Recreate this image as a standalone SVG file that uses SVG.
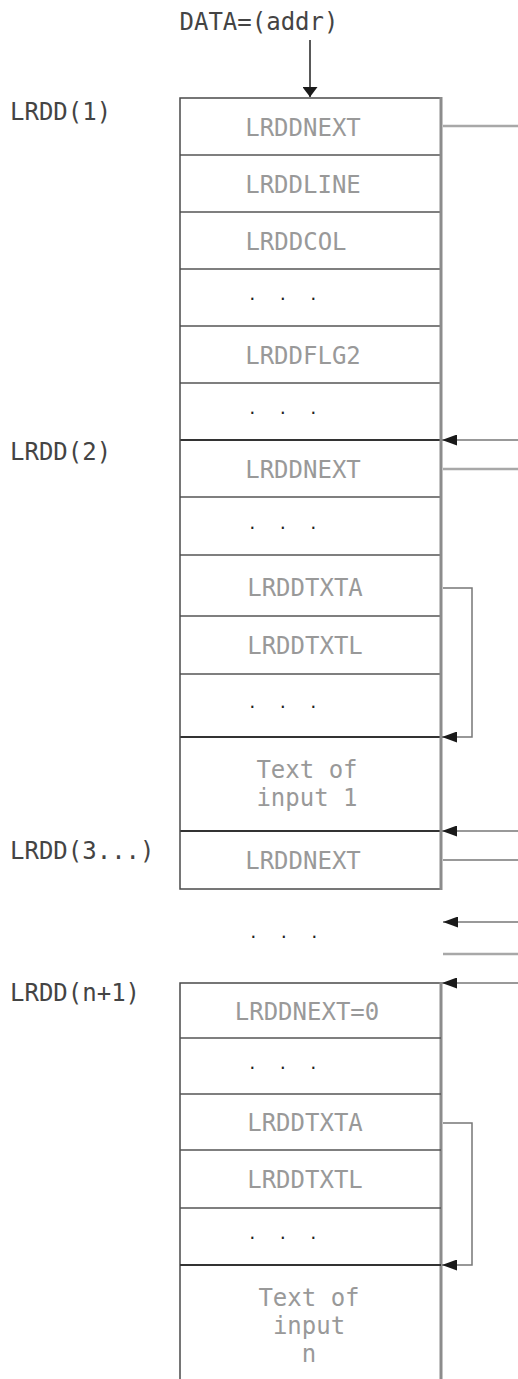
<svg xmlns="http://www.w3.org/2000/svg" width="518" height="1379" viewBox="0 0 518 1379">
<style>
.bg{fill:#ffffff}
.lbl{font-family:"DejaVu Sans Mono","Liberation Mono",monospace;font-size:24px;fill:#444444}
.in{font-family:"DejaVu Sans Mono","Liberation Mono",monospace;font-size:24px;fill:#999999;text-anchor:middle}
.dots{font-family:"DejaVu Sans Mono","Liberation Mono",monospace;font-size:16px;fill:#222;letter-spacing:5.6px}
.box{fill:none;stroke:#4a4a4a;stroke-width:1.5}
.edge{stroke:#8c8c8c;stroke-width:3}
.sep{stroke:#555;stroke-width:1.3}
.sepd{stroke:#333;stroke-width:2}
.con{fill:none;stroke:#a8a8a8;stroke-width:2.5}
.conv{fill:none;stroke:#777;stroke-width:1.5}
.arr{fill:none;stroke:#999;stroke-width:2}
</style>
<defs>
<marker id="ah" markerUnits="userSpaceOnUse" markerWidth="15" markerHeight="11" refX="15" refY="5.5" orient="auto">
<path d="M0,0 L15,5.5 L0,11 Z" fill="#1a1a1a"/>
</marker>
<marker id="ahTop" markerUnits="userSpaceOnUse" markerWidth="10" markerHeight="15" refX="10" refY="7.5" orient="auto">
<path d="M0,0 L10,7.5 L0,15 Z" fill="#1a1a1a"/>
</marker>
</defs>
<rect class="bg" x="0" y="0" width="518" height="1379"/>

<g id="entry">
<text class="lbl" x="259" y="30" text-anchor="middle">DATA=(addr)</text>
</g>

<g id="lrdd1">
<text class="lbl" x="10" y="120">LRDD(1)</text>
<line class="sep" x1="180" y1="155" x2="441" y2="155"/>
<line class="sep" x1="180" y1="212" x2="441" y2="212"/>
<line class="sep" x1="180" y1="269" x2="441" y2="269"/>
<line class="sep" x1="180" y1="326" x2="441" y2="326"/>
<line class="sep" x1="180" y1="383" x2="441" y2="383"/>
<text class="in" x="303" y="135.5">LRDDNEXT</text>
<text class="in" x="303" y="192.5">LRDDLINE</text>
<text class="in" x="296" y="249.5">LRDDCOL</text>
<text class="dots" x="247.5" y="300">. . .</text>
<text class="in" x="303" y="363.5">LRDDFLG2</text>
<text class="dots" x="247.5" y="414">. . .</text>
</g>

<g id="lrdd2">
<text class="lbl" x="10" y="460">LRDD(2)</text>
<line class="sepd" x1="180" y1="440" x2="441" y2="440"/>
<line class="sep" x1="180" y1="497" x2="441" y2="497"/>
<line class="sep" x1="180" y1="555" x2="441" y2="555"/>
<line class="sep" x1="180" y1="616" x2="441" y2="616"/>
<line class="sep" x1="180" y1="674" x2="441" y2="674"/>
<line class="sepd" x1="180" y1="737" x2="441" y2="737"/>
<text class="in" x="303" y="477.5">LRDDNEXT</text>
<text class="dots" x="247.5" y="528.5">. . .</text>
<text class="in" x="305" y="596">LRDDTXTA</text>
<text class="in" x="305" y="654">LRDDTXTL</text>
<text class="dots" x="247.5" y="708">. . .</text>
<text class="in" x="307" y="778">Text of</text>
<text class="in" x="307" y="806">input 1</text>
</g>

<g id="lrdd3">
<text class="lbl" x="10" y="859">LRDD(3...)</text>
<line class="sepd" x1="180" y1="831" x2="441" y2="831"/>
<text class="in" x="303" y="869">LRDDNEXT</text>
</g>

<g id="box123">
<rect class="box" x="180" y="98" width="261" height="791"/>
<line class="edge" x1="441" y1="97" x2="441" y2="890"/>
</g>

<g id="gap">
<text class="dots" x="248.5" y="937.5">. . .</text>
</g>

<g id="lrddn1">
<text class="lbl" x="10" y="1001">LRDD(n+1)</text>
<path class="box" d="M180,1379 L180,983 L441,983"/>
<line class="edge" x1="441" y1="982" x2="441" y2="1379"/>
<line class="sep" x1="180" y1="1038" x2="441" y2="1038"/>
<line class="sep" x1="180" y1="1094" x2="441" y2="1094"/>
<line class="sep" x1="180" y1="1150" x2="441" y2="1150"/>
<line class="sep" x1="180" y1="1208" x2="441" y2="1208"/>
<line class="sepd" x1="180" y1="1265" x2="441" y2="1265"/>
<text class="in" x="307" y="1019.5">LRDDNEXT=0</text>
<text class="dots" x="247.5" y="1068.5">. . .</text>
<text class="in" x="305" y="1131">LRDDTXTA</text>
<text class="in" x="305" y="1188">LRDDTXTL</text>
<text class="dots" x="247.5" y="1239">. . .</text>
<text class="in" x="309" y="1306">Text of</text>
<text class="in" x="309" y="1334">input</text>
<text class="in" x="309" y="1362">n</text>
</g>

<g id="connectors">
<line x1="310" y1="40" x2="310" y2="97" stroke="#222" stroke-width="1.5" marker-end="url(#ahTop)"/>
<line class="con" x1="443" y1="126" x2="518" y2="126"/>
<line class="arr" x1="518" y1="440" x2="442" y2="440" marker-end="url(#ah)"/>
<line class="con" x1="443" y1="469" x2="518" y2="469"/>
<path class="conv" d="M443,588 L472,588 L472,737 L442,737" marker-end="url(#ah)"/>
<line class="arr" x1="518" y1="831" x2="442" y2="831" marker-end="url(#ah)"/>
<line class="conv" x1="443" y1="860" x2="518" y2="860"/>
<line class="arr" x1="518" y1="922" x2="443" y2="922" marker-end="url(#ah)"/>
<line class="con" x1="443" y1="954" x2="518" y2="954"/>
<line class="arr" x1="518" y1="983" x2="442" y2="983" marker-end="url(#ah)"/>
<path class="conv" d="M443,1123 L472,1123 L472,1265 L442,1265" marker-end="url(#ah)"/>
</g>
</svg>
